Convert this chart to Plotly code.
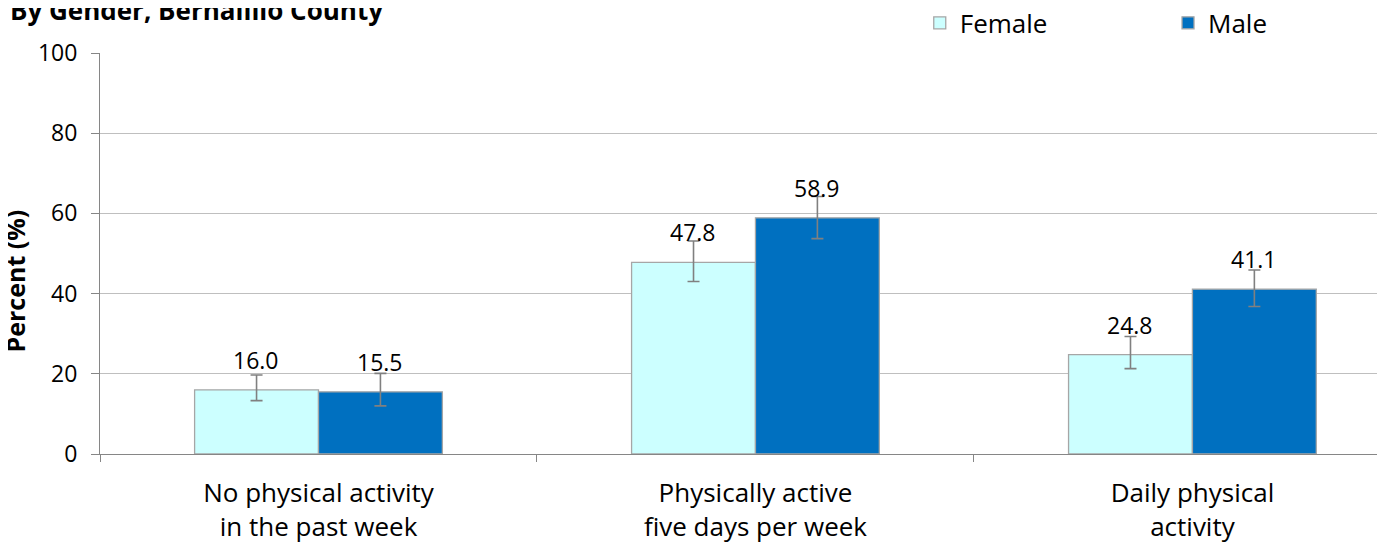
import plotly.graph_objects as go

categories = ["No physical activity<br>in the past week",
              "Physically active<br>five days per week",
              "Daily physical<br>activity"]
female = [16.0, 47.8, 24.8]
male = [15.5, 58.9, 41.1]
female_hi = [19.7, 53.1, 29.3]
female_lo = [13.3, 43.0, 21.3]
male_hi = [20.1, 64.2, 45.9]
male_lo = [12.0, 53.7, 36.8]

FONT = "Open Sans, sans-serif"

fig = go.Figure()


def add_series(name, vals, hi, lo, color, legend):
    fig.add_trace(go.Bar(
        x=categories, y=vals, name=name, legend=legend,
        marker={"color": color, "line": {"color": "#A6A6A6", "width": 1.3}},
        error_y={"type": "data", "symmetric": False,
                 "array": [h - v for h, v in zip(hi, vals)],
                 "arrayminus": [v - l for v, l in zip(vals, lo)],
                 "color": "#808080", "thickness": 1.6, "width": 6},
    ))


add_series("Female", female, female_hi, female_lo, "#CCFFFF", "legend")
add_series("Male", male, male_hi, male_lo, "#0070C0", "legend2")

# value labels over each bar
for vals, shift in ((female, -62), (male, 62)):
    for cat, v in zip(categories, vals):
        fig.add_annotation(x=cat, y=v, text=f"{v:.1f}", showarrow=False,
                           xshift=shift, yshift=12, yanchor="bottom",
                           font={"size": 23, "color": "black", "family": FONT})

fig.add_annotation(x=0, xref="paper", xanchor="left", y=1.12, yref="paper",
                   yanchor="middle", yshift=-5,
                   text="<b>By Gender, Bernalillo County</b>", showarrow=False,
                   xshift=-92, font={"size": 26, "color": "black", "family": FONT})

# y-axis title as a rotated annotation so it can sit close to the edge
fig.add_annotation(x=0, xref="paper", xanchor="center", y=0.5, yref="paper",
                   yanchor="middle", xshift=-86, yshift=-28, textangle=-90,
                   text="<b>Percent (%)</b>", showarrow=False,
                   font={"size": 25, "color": "black", "family": FONT})

leg_style = {"orientation": "h", "y": 0.973, "yref": "container",
             "xanchor": "left", "yanchor": "middle",
             "font": {"size": 26, "family": FONT},
             "bgcolor": "rgba(0,0,0,0)"}

# page body adds an 8px offset, so margins are trimmed to compensate
fig.update_layout(
    width=1385, height=553,
    barmode="group", bargap=0.433, bargroupgap=0,
    plot_bgcolor="white", paper_bgcolor="white",
    margin={"t": 45, "b": 107, "l": 92, "r": 0},
    font={"family": FONT, "color": "black"},
    showlegend=True,
    legend={**leg_style, "x": 0.634},
    legend2={**leg_style, "x": 0.826},
)
fig.update_xaxes(range=[-0.5, 2.459], showline=True, linecolor="#868686",
                 ticks="outside", tickson="boundaries", ticklen=7,
                 tickcolor="#868686", tickfont={"size": 26}, showgrid=False,
                 ticklabelstandoff=16, automargin=False)
fig.update_yaxes(range=[0, 100], dtick=20, showline=True, linecolor="#868686",
                 ticks="outside", ticklen=8, tickcolor="#868686",
                 gridcolor="#BFBFBF", gridwidth=1, zeroline=False,
                 tickfont={"size": 23}, automargin=False,
                 ticklabelstandoff=9)

fig.write_html("out.html")
